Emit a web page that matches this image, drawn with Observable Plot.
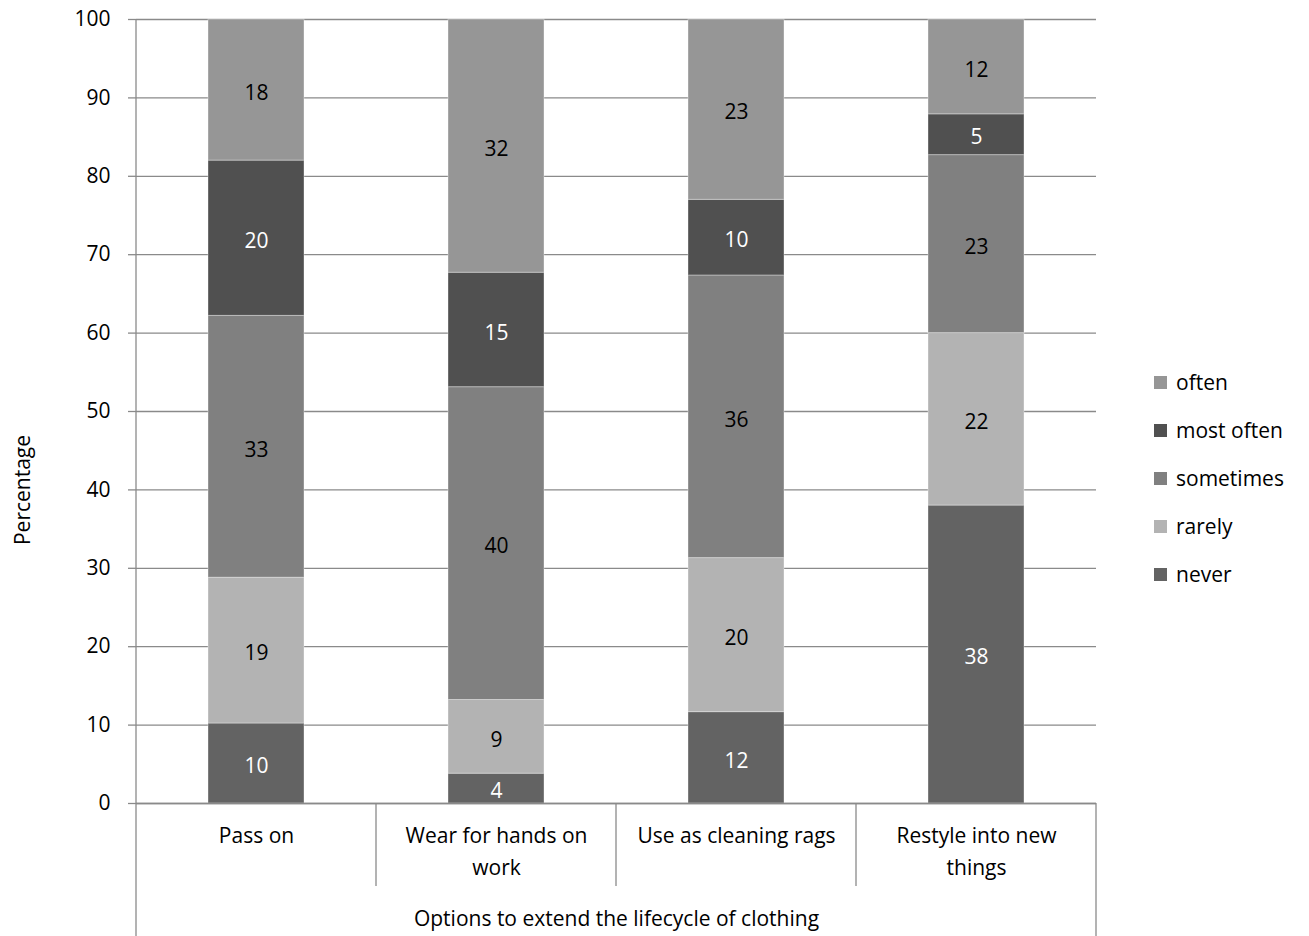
<!DOCTYPE html>
<html>
<head>
<meta charset="utf-8">
<script src="https://cdn.jsdelivr.net/npm/d3@7"></script>
<script src="https://cdn.jsdelivr.net/npm/@observablehq/plot@0.6"></script>
<style>
  body { margin: 0; background: #fff; }
  #wrap { position: relative; width: 1309px; height: 936px; font-family: "Open Sans", sans-serif; }
  #legend { position: absolute; left: 1154px; top: 358px; }
  .item { display: flex; align-items: center; height: 48px; font-size: 21px; color: #000; }
  .sw { width: 13px; height: 13px; margin-right: 9px; }
</style>
</head>
<body>
<div id="wrap"></div>
<script>
// Options for extending a garment's life, and how often respondents use each
const categories = ["Pass on", "Wear for hands on work", "Use as cleaning rags", "Restyle into new things"];
const categoryLines = ["Pass on", "Wear for hands on\nwork", "Use as cleaning rags", "Restyle into new\nthings"];
const levels = ["never", "rarely", "sometimes", "most often", "often"];
const levelColors = ["#636363", "#b3b3b3", "#808080", "#505050", "#969696"];

// Percentages per category, bottom of the stack first
const never     = [10.2,  3.8, 11.65, 38.0];
const rarely    = [18.6,  9.4, 19.65, 22.0];
const sometimes = [33.4, 39.9, 36.05, 22.7];
const mostOften = [19.8, 14.6,  9.65,  5.2];
const often     = [18.0, 32.3, 23.0,  12.1];

const yTicks = d3.range(0, 101, 10);
const yLabel = "Percentage";
const xTitle = "Options to extend the lifecycle of clothing";

const series = [never, rarely, sometimes, mostOften, often];
const rows = [];
categories.forEach((c, i) => {
  levels.forEach((lv, j) => rows.push({category: c, level: lv, value: series[j][i]}));
});
const darkLevels = new Set(["never", "most often"]);
const font = "Open Sans, sans-serif";
const fs = 21;
const valueText = dark => d => darkLevels.has(d.level) === dark ? String(Math.round(d.value)) : "";

const chart = Plot.plot({
  width: 1309,
  height: 936,
  marginLeft: 136,
  marginRight: 213,
  marginTop: 19,
  marginBottom: 133,
  style: {fontFamily: font, fontSize: fs + "px", color: "#000", background: "#fff"},
  x: {domain: categories, padding: 0, axis: null},
  y: {domain: [0, 100], axis: null},
  color: {domain: levels, range: levelColors},
  marks: [
    Plot.gridY(yTicks, {stroke: "#8a8a8a", strokeOpacity: 1, strokeWidth: 1.3}),
    Plot.axisY(yTicks, {tickSize: 8, tickPadding: 18, stroke: "#8a8a8a", strokeWidth: 1.3, fontSize: fs, label: null}),
    Plot.barY(rows, {x: "category", y: "value", fill: "level", insetLeft: 72, insetRight: 72,
      stroke: "#ffffff", strokeOpacity: 0.35, strokeWidth: 1}),
    Plot.ruleY([0], {stroke: "#8a8a8a", strokeWidth: 1.3}),
    // value labels: white on the dark segments, black on the light ones
    Plot.text(rows, Plot.stackY({x: "category", y: "value", text: valueText(true), fill: "#ffffff", fontSize: fs, dy: 3})),
    Plot.text(rows, Plot.stackY({x: "category", y: "value", text: valueText(false), fill: "#000000", fontSize: fs, dy: 3})),
    Plot.axisX({tickSize: 0, tickPadding: 16, fontSize: fs, lineHeight: 1.55, label: null,
      tickFormat: c => categoryLines[categories.indexOf(c)]}),
    Plot.text([xTitle], {frameAnchor: "bottom", dy: 122, fontSize: fs, fill: "#000"})
  ]
});

// Category dividers and the outer frame of the category axis
const svg = d3.select(chart);
const xs = chart.scale("x");
const yScale = chart.scale("y");
const y0 = yScale.apply(0);
const left = xs.apply(categories[0]);
const right = xs.apply(categories[categories.length - 1]) + xs.bandwidth;
const lineStyle = sel => sel.attr("stroke", "#8a8a8a").attr("stroke-width", 1.3);
svg.append("line").attr("x1", left).attr("x2", left).attr("y1", yScale.apply(100)).attr("y2", 936).call(lineStyle);
svg.append("line").attr("x1", right).attr("x2", right).attr("y1", y0).attr("y2", 936).call(lineStyle);
categories.slice(1).forEach(c => {
  const x = xs.apply(c);
  svg.append("line").attr("x1", x).attr("x2", x).attr("y1", y0).attr("y2", y0 + 83).call(lineStyle);
});
svg.append("text").text(yLabel)
  .attr("transform", `translate(30,490) rotate(-90)`)
  .attr("text-anchor", "middle").attr("font-size", fs).attr("font-family", font).attr("fill", "#000");

const wrap = document.getElementById("wrap");
wrap.appendChild(chart);

// Legend, listed top of the stack first
const legend = document.createElement("div");
legend.id = "legend";
levels.slice().reverse().forEach(lv => {
  const item = document.createElement("div");
  item.className = "item";
  const sw = document.createElement("div");
  sw.className = "sw";
  sw.style.background = levelColors[levels.indexOf(lv)];
  const t = document.createElement("span");
  t.textContent = lv;
  item.appendChild(sw);
  item.appendChild(t);
  legend.appendChild(item);
});
wrap.appendChild(legend);
</script>
</body>
</html>
